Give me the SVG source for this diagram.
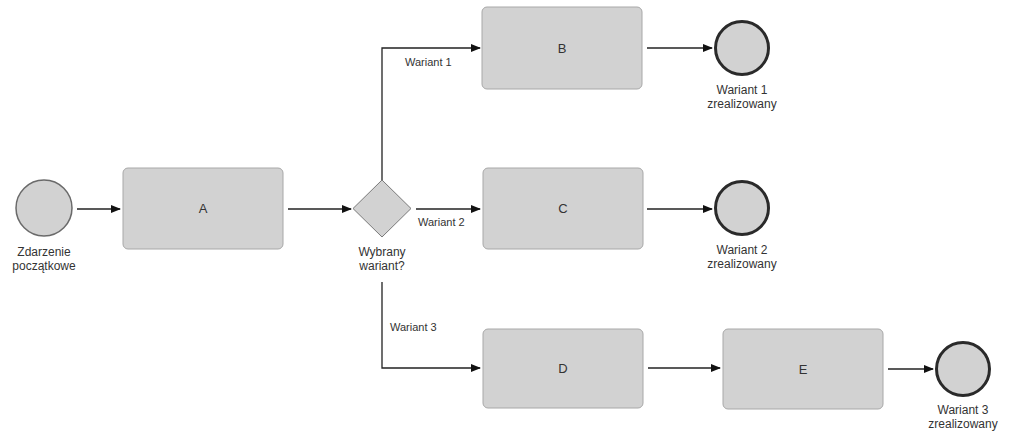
<svg xmlns="http://www.w3.org/2000/svg" width="1009" height="433" viewBox="0 0 1009 433">
<defs>
<style>
.task{fill:#d2d2d2;stroke:#a8a8a8;stroke-width:1}
.start{fill:#d2d2d2;stroke:#6a6a6a;stroke-width:1.5}
.end{fill:#d2d2d2;stroke:#2a2a2a;stroke-width:3}
.gw{fill:#d2d2d2;stroke:#7a7a7a;stroke-width:1}
.lbl{font-family:"Liberation Sans",Arial,sans-serif;font-size:12px;fill:#333;text-anchor:middle}
.tl{font-family:"Liberation Sans",Arial,sans-serif;font-size:13px;fill:#333;text-anchor:middle}
.el{font-family:"Liberation Sans",Arial,sans-serif;font-size:11px;fill:#333}
.c{fill:none;stroke:#222;stroke-width:1.3;marker-end:url(#ah)}
</style>
<marker id="ah" markerWidth="10" markerHeight="8" refX="9" refY="4" orient="auto" markerUnits="userSpaceOnUse">
<path d="M0,0 L10,4 L0,8 Z" fill="#111"/>
</marker>
</defs>
<rect width="1009" height="433" fill="#fff"/>
<g id="connectors">
<path class="c" d="M77,209 H120"/>
<path class="c" d="M288,209 H351"/>
<path class="c" d="M382,180 V48 H480"/>
<path class="c" d="M416,209 H480"/>
<path class="c" d="M382,282 V368 H480"/>
<path class="c" d="M647,48 H712"/>
<path class="c" d="M647,209 H712"/>
<path class="c" d="M648,368 H720"/>
<path class="c" d="M888,369 H933"/>
<text class="el" x="405" y="66">Wariant 1</text>
<text class="el" x="418" y="226">Wariant 2</text>
<text class="el" x="390" y="331">Wariant 3</text>
</g>
<g id="start">
<circle class="start" cx="44" cy="208" r="28"/>
<text class="lbl" x="44" y="256">Zdarzenie</text>
<text class="lbl" x="44" y="270">początkowe</text>
</g>
<g id="A">
<rect class="task" x="123" y="168" width="160" height="81" rx="5"/>
<text class="tl" x="203" y="213">A</text>
</g>
<g id="gateway">
<path class="gw" d="M382,180 L411,208.5 L382,237 L353,208.5 Z"/>
<text class="lbl" x="382" y="256">Wybrany</text>
<text class="lbl" x="382" y="270">wariant?</text>
</g>
<g id="B">
<rect class="task" x="482" y="7" width="160" height="82" rx="5"/>
<text class="tl" x="562" y="53">B</text>
</g>
<g id="C">
<rect class="task" x="483" y="168" width="160" height="81" rx="5"/>
<text class="tl" x="563" y="213">C</text>
</g>
<g id="D">
<rect class="task" x="483" y="329" width="160" height="79" rx="5"/>
<text class="tl" x="563" y="373">D</text>
</g>
<g id="E">
<rect class="task" x="723" y="329" width="160" height="80" rx="5"/>
<text class="tl" x="803" y="374">E</text>
</g>
<g id="end1">
<circle class="end" cx="742" cy="48" r="26.5"/>
<text class="lbl" x="742" y="94">Wariant 1</text>
<text class="lbl" x="742" y="108">zrealizowany</text>
</g>
<g id="end2">
<circle class="end" cx="742" cy="208" r="26.5"/>
<text class="lbl" x="742" y="254">Wariant 2</text>
<text class="lbl" x="742" y="268">zrealizowany</text>
</g>
<g id="end3">
<circle class="end" cx="963" cy="369" r="26.5"/>
<text class="lbl" x="963" y="414">Wariant 3</text>
<text class="lbl" x="963" y="428">zrealizowany</text>
</g>
</svg>
